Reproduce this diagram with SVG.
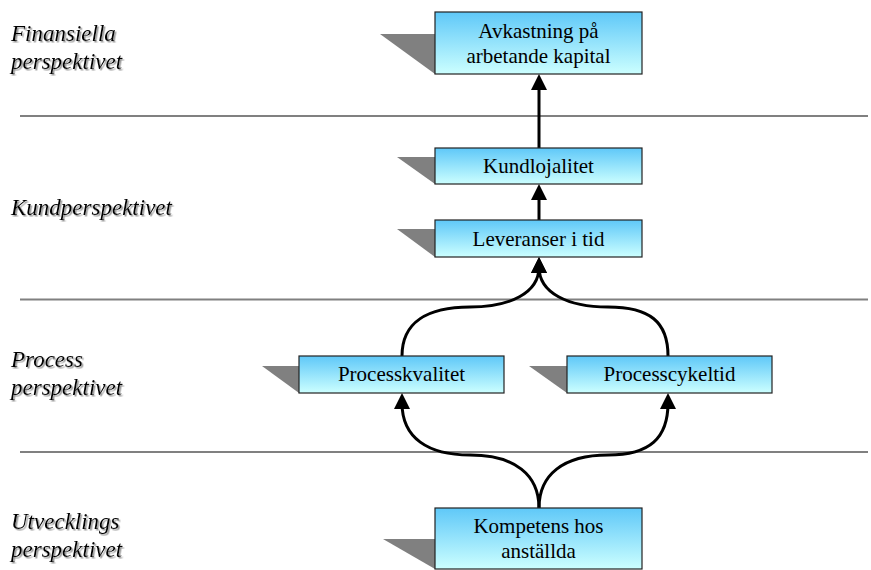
<svg xmlns="http://www.w3.org/2000/svg" width="871" height="570" viewBox="0 0 871 570">
  <defs>
    <linearGradient id="boxFill" x1="0" y1="0" x2="0" y2="1">
      <stop offset="0" stop-color="#5fc8f8"/>
      <stop offset="1" stop-color="#ccffff"/>
    </linearGradient>
    <filter id="labelShadow" x="-10%" y="-30%" width="130%" height="170%">
      <feDropShadow dx="1.5" dy="1.5" stdDeviation="0.5" flood-color="#8a8a8a" flood-opacity="0.9"/>
    </filter>
    <marker id="arrow" viewBox="0 0 16 16" markerWidth="16" markerHeight="16" refX="6" refY="8" orient="auto" markerUnits="userSpaceOnUse">
      <path d="M0,0 L16,8 L0,16 z" fill="#000"/>
    </marker>
    <style>
      .sep { stroke: #808080; stroke-width: 2; fill: none; }
      .box { fill: url(#boxFill); stroke: #222; stroke-width: 1.2; }
      .depth { fill: #808080; stroke: none; }
      text { font-family: Tinos, 'Liberation Serif', 'Noto Serif', 'DejaVu Serif', 'Times New Roman', Times, FreeSerif, serif; }
      .node-text { font-size: 21px; fill: #000; text-anchor: middle; }
      .label { font-size: 23px; font-style: italic; fill: #000; filter: url(#labelShadow); }
      .link { stroke: #000; stroke-width: 3; fill: none; marker-end: url(#arrow); }
    </style>
  </defs>

  <!-- perspective separators -->
  <g id="separators">
    <line class="sep" x1="20" y1="116" x2="868" y2="116"/>
    <line class="sep" x1="20" y1="299.5" x2="868" y2="299.5"/>
    <line class="sep" x1="20" y1="452" x2="868" y2="452"/>
  </g>

  <!-- perspective labels -->
  <g id="labels">
    <text class="label" x="11" y="41">Finansiella</text>
    <text class="label" x="11" y="69">perspektivet</text>
    <text class="label" x="11" y="215">Kundperspektivet</text>
    <text class="label" x="11" y="367">Process</text>
    <text class="label" x="11" y="395">perspektivet</text>
    <text class="label" x="11" y="529">Utvecklings</text>
    <text class="label" x="11" y="557">perspektivet</text>
  </g>

  <!-- connectors -->
  <g id="connectors">
    <path class="link" d="M539,148 L539,84"/>
    <path class="link" d="M539,220 L539,194"/>
    <path class="link" d="M402,356 C402,322 428,307 470,307 C510,307 539,293 539,267"/>
    <path class="link" d="M668,356 C668,322 650,307 608,307 C568,307 539,293 539,267"/>
    <path class="link" d="M539,508 C539,475 515,455 470,455 C428,455 402,438 402,403"/>
    <path class="link" d="M539,508 C539,475 563,455 608,455 C650,455 668,438 668,403"/>
  </g>

  <g id="avkastning">
    <polygon class="depth" points="380,34 435,34 435,74"/>
    <rect class="box" x="435" y="12" width="207" height="62"/>
    <text class="node-text" x="538.5" y="38">Avkastning på</text>
    <text class="node-text" x="538.5" y="63">arbetande kapital</text>
  </g>

  <g id="kundlojalitet">
    <polygon class="depth" points="397,157 435,157 435,184"/>
    <rect class="box" x="435" y="148" width="207" height="36"/>
    <text class="node-text" x="538.5" y="173">Kundlojalitet</text>
  </g>

  <g id="leveranser">
    <polygon class="depth" points="397,229 435,229 435,257"/>
    <rect class="box" x="435" y="220" width="207" height="37"/>
    <text class="node-text" x="538.5" y="246">Leveranser i tid</text>
  </g>

  <g id="processkvalitet">
    <polygon class="depth" points="262,366 299,366 299,393"/>
    <rect class="box" x="299" y="356" width="205" height="37"/>
    <text class="node-text" x="401.5" y="381">Processkvalitet</text>
  </g>

  <g id="processcykeltid">
    <polygon class="depth" points="529,366 567,366 567,393"/>
    <rect class="box" x="567" y="356" width="205" height="37"/>
    <text class="node-text" x="669.5" y="381">Processcykeltid</text>
  </g>

  <g id="kompetens">
    <polygon class="depth" points="383,539 435,539 435,569"/>
    <rect class="box" x="435" y="508" width="207" height="61"/>
    <text class="node-text" x="538.5" y="533">Kompetens hos</text>
    <text class="node-text" x="538.5" y="558">anställda</text>
  </g>
</svg>
